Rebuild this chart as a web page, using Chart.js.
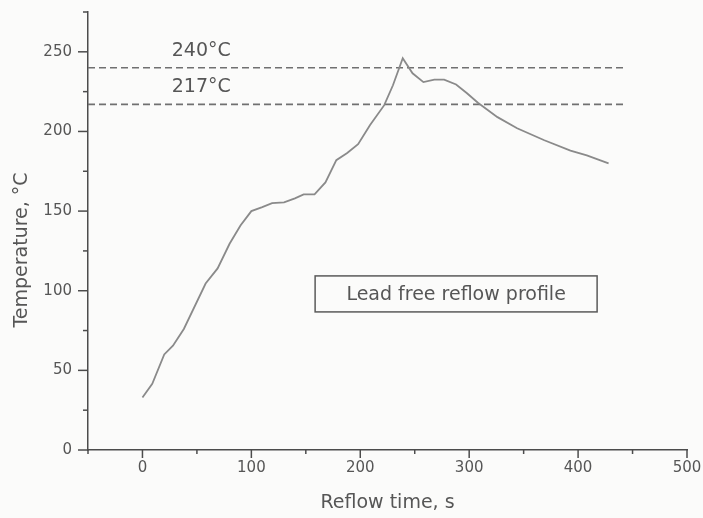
<!DOCTYPE html>
<html lang="en">
<head>
    <meta charset="UTF-8">
    <title>Lead free reflow profile</title>
    <script src="https://cdn.jsdelivr.net/npm/chart.js"></script>
    <style>
        body {
            margin: 0;
            padding: 0;
            background-color: #fbfbfa;
        }

        .chart-box {
            width: 703px;
            height: 518px;
            position: relative;
        }
    </style>
</head>
<body>
    <div class="chart-box">
        <canvas id="reflowChart"></canvas>
    </div>

    <script>
        // measured oven profile: time (s) and temperature (°C)
        const reflowTime = [0, 9, 20, 28, 38, 58, 69, 80, 90, 100, 110, 119, 130, 140, 148, 158, 168, 178, 188, 198,
            209, 222, 230, 239, 248, 258, 268, 277, 288, 298, 308, 326, 344, 369, 393, 408, 428];
        const temperature = [33, 41.5, 60, 65.5, 76, 104.5, 114, 129.5, 141, 150, 152.5, 155, 155.5, 158, 160.5, 160.5, 168, 182, 186.5, 192,
            204, 216.5, 229, 246, 236.5, 231, 232.5, 232.5, 229.5, 224, 218, 209, 202, 194.5, 188, 185, 180];

        // horizontal reference levels and how far they run along the time axis
        const refLevels = [240, 217];
        const refLabels = ['240°C', '217°C'];
        const refSpan = [-50, 442];
        const refLabelTime = 54;

        const xMajorTicks = [0, 100, 200, 300, 400, 500];
        const xMinorTicks = [-50, 50, 150, 250, 350, 450];
        const yMajorTicks = [0, 50, 100, 150, 200, 250];
        const yMinorTicks = [25, 75, 125, 175, 225, 275];

        const legendText = 'Lead free reflow profile';
        const legendAt = { x: 288, y: 98 };

        const axisColor = '#4c4c4c';
        const textColor = '#565656';
        const fontFamily = "'DejaVu Sans', sans-serif";

        const profilePoints = reflowTime.map((t, i) => ({ x: t, y: temperature[i] }));

        const refDatasets = refLevels.map(level => ({
            data: refSpan.map(t => ({ x: t, y: level })),
            showLine: true,
            borderColor: '#707070',
            borderWidth: 1.6,
            borderDash: [7, 4],
            pointRadius: 0,
        }));

        // ticks, axis titles, level labels and the framed legend
        const decorPlugin = {
            id: 'decor',
            afterDraw(chart) {
                const { ctx, chartArea, scales: { x, y } } = chart;
                ctx.save();
                ctx.strokeStyle = axisColor;
                ctx.lineWidth = 1.5;

                const tick = (x1, y1, x2, y2) => {
                    ctx.beginPath();
                    ctx.moveTo(x1, y1);
                    ctx.lineTo(x2, y2);
                    ctx.stroke();
                };

                xMajorTicks.forEach(v => {
                    const px = x.getPixelForValue(v);
                    tick(px, chartArea.bottom, px, chartArea.bottom + 8);
                });
                xMinorTicks.forEach(v => {
                    const px = x.getPixelForValue(v);
                    tick(px, chartArea.bottom, px, chartArea.bottom + 4);
                });
                yMajorTicks.forEach(v => {
                    const py = y.getPixelForValue(v);
                    tick(chartArea.left, py, chartArea.left - 10, py);
                });
                yMinorTicks.forEach(v => {
                    const py = y.getPixelForValue(v);
                    tick(chartArea.left, py, chartArea.left - 5, py);
                });

                ctx.fillStyle = textColor;
                ctx.font = '19px ' + fontFamily;
                ctx.textAlign = 'center';
                ctx.textBaseline = 'middle';

                refLevels.forEach((level, i) => {
                    ctx.fillText(refLabels[i], x.getPixelForValue(refLabelTime), y.getPixelForValue(level) - 17);
                });

                // y axis title
                ctx.save();
                ctx.translate(22, 250);
                ctx.rotate(-Math.PI / 2);
                ctx.fillText('Temperature, °C', 0, 0);
                ctx.restore();

                // legend frame with its text
                const lx = x.getPixelForValue(legendAt.x);
                const ly = y.getPixelForValue(legendAt.y);
                ctx.strokeStyle = '#5a5a5a';
                ctx.lineWidth = 1.5;
                ctx.strokeRect(lx - 141, ly - 18, 282, 36);
                ctx.fillText(legendText, lx, ly + 1);

                ctx.restore();
            }
        };

        new Chart(document.getElementById('reflowChart').getContext('2d'), {
            type: 'scatter',
            data: {
                datasets: [{
                    data: profilePoints,
                    showLine: true,
                    borderColor: '#8a8a8a',
                    borderWidth: 1.8,
                    pointRadius: 0,
                    tension: 0,
                }, ...refDatasets],
            },
            options: {
                responsive: true,
                maintainAspectRatio: false,
                animation: false,
                events: [],
                layout: {
                    autoPadding: false,
                    padding: { top: 12, right: 16, left: 0, bottom: 0 }
                },
                plugins: {
                    legend: { display: false },
                    tooltip: { enabled: false },
                },
                scales: {
                    x: {
                        type: 'linear',
                        min: -50,
                        max: 500,
                        afterFit: scale => {
                            scale.height = 68;
                            scale.paddingLeft = 0;
                            scale.paddingRight = 0;
                        },
                        grid: { display: false, drawTicks: false },
                        border: { display: true, color: axisColor, width: 1.5 },
                        ticks: {
                            stepSize: 50,
                            includeBounds: false,
                            padding: 9,
                            color: textColor,
                            font: { family: fontFamily, size: 15 },
                            maxRotation: 0,
                            autoSkip: false,
                            callback: v => (xMajorTicks.includes(v) ? v : ''),
                        },
                        title: {
                            display: true,
                            text: 'Reflow time, s',
                            color: textColor,
                            font: { family: fontFamily, size: 19 },
                            padding: { top: 4 },
                        },
                    },
                    y: {
                        min: 0,
                        max: 275,
                        afterFit: scale => {
                            scale.width = 88;
                            scale.paddingTop = 0;
                            scale.paddingBottom = 0;
                        },
                        grid: { display: false, drawTicks: false },
                        border: { display: true, color: axisColor, width: 1.5 },
                        ticks: {
                            stepSize: 50,
                            includeBounds: false,
                            padding: 16,
                            color: textColor,
                            font: { family: fontFamily, size: 15 },
                        },
                    },
                },
            },
            plugins: [decorPlugin],
        });
    </script>
</body>
</html>
